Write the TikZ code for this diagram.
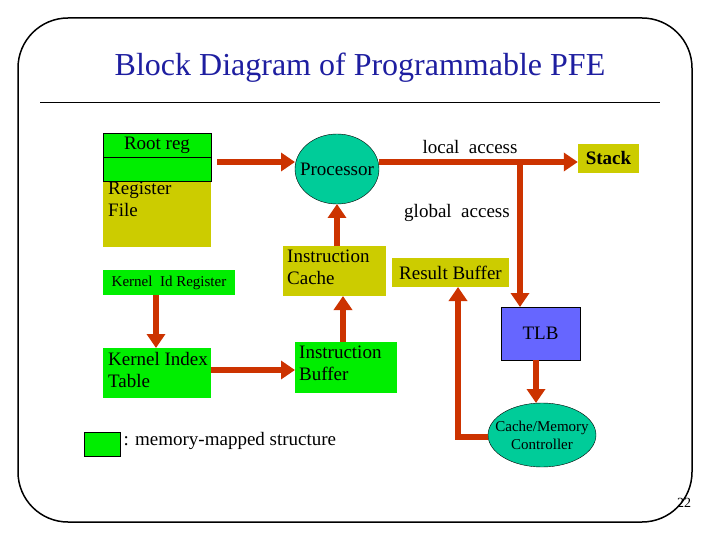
\documentclass[tikz,border=0pt]{standalone}
\usepackage{fontspec}
\setmainfont{Liberation Serif}
\usetikzlibrary{arrows.meta,shapes.geometric}
\definecolor{grn}{RGB}{0,238,0}
\definecolor{olv}{RGB}{204,204,0}
\definecolor{teal2}{RGB}{0,204,153}
\definecolor{arr}{RGB}{204,51,0}
\definecolor{tlb}{RGB}{102,102,255}
\definecolor{ttl}{RGB}{30,30,160}
\begin{document}
\begin{tikzpicture}[x=1pt,y=-1pt,
  fs/.style={font=\fontsize{19}{22}\selectfont},
  lbl/.style={fs,align=left,anchor=north west,inner sep=2pt},
  ar/.style={draw=arr,line width=6.5pt,-{Triangle[width=18pt,length=14pt]}}]
\useasboundingbox (0,0) rectangle (720,540);
\draw[line width=1.5pt,rounded corners=50pt] (18,18) rectangle (692,522);
\node[text=ttl,font=\fontsize{32}{36}\selectfont] (title) at (360,68) {Block Diagram of Programmable PFE};
\draw[line width=0.6pt] (40,102) -- (660,102);
% register file
\fill[olv] (103,181) rectangle (211,247);
\draw[fill=grn] (103,133) rectangle (211,181);
\draw (103,157) -- (211,157);
\node[fs] (root) at (157,145) {Root reg};
\node[lbl] (rf) at (106,180) {Register\\File};
% processor
\draw[fill=teal2] (337,169) ellipse [x radius=42pt,y radius=35pt];
\node[fs] (proc) at (337,169) {Processor};
\coordinate (procW) at (295,162);
\coordinate (procE) at (379,162);
\coordinate (procS) at (337,204);
\node[fill=olv,minimum width=61pt,minimum height=29pt,inner sep=0pt,font=\fontsize{19}{22}\bfseries\selectfont] (stack) at (608.5,158.5) {Stack};
\node[fs] (la) at (470,147) {local\ \ access};
\node[fs] (ga) at (457,213) {global\ \ access};
\node[fill=tlb,draw,minimum width=79pt,minimum height=53pt,inner sep=0pt,fs] (tlb) at (540.5,333.5) {TLB};
\draw[fill=teal2] (542,435) ellipse [x radius=54pt,y radius=32pt];
\node[align=center,font=\fontsize{15}{18}\selectfont] (cmc) at (542,435) {Cache/Memory\\Controller};
\coordinate (cmcN) at (536,403);
% instruction cache / buffer
\fill[olv] (283,246) rectangle (386,296);
\node[lbl] (ic) at (285,248) {Instruction\\Cache};
\fill[grn] (295,342) rectangle (397,393);
\node[lbl] (ib) at (297,344) {Instruction\\Buffer};
\node[fill=olv,minimum width=117pt,minimum height=29pt,inner sep=0pt,fs] (rb) at (450.5,272.5) {Result Buffer};
% kernel
\node[fill=grn,minimum width=132pt,minimum height=25pt,inner sep=0pt,font=\fontsize{15}{17}\selectfont] (kid) at (169,282.5) {Kernel\ \ Id Register};
\fill[grn] (103,348) rectangle (211,398);
\node[lbl] (kit) at (106,350) {Kernel Index\\Table};
% legend
\draw[fill=grn] (84,432) rectangle (120,456);
\node[anchor=west,fs] (leg) at (120,441) {: memory-mapped structure};
\node[font=\fontsize{14}{16}\selectfont] (pg) at (684,503) {22};
% arrows
\draw[ar] (217,162) -- (procW);
\draw[ar] (procE) -- (stack.west|-procE);
\draw[ar] (520,162) -- (520,307);
\draw[ar] (337,246) -- (procS);
\draw[ar] (343,342) -- (343,296);
\draw[ar] (156,295) -- (156,348);
\draw[ar] (211,370) -- (295,370);
\draw[ar] (536,360) -- (cmcN);
\coordinate (cw) at (488,437);
\draw[ar] (cw) -- (458,437) -- (458,287);
\end{tikzpicture}
\end{document}
